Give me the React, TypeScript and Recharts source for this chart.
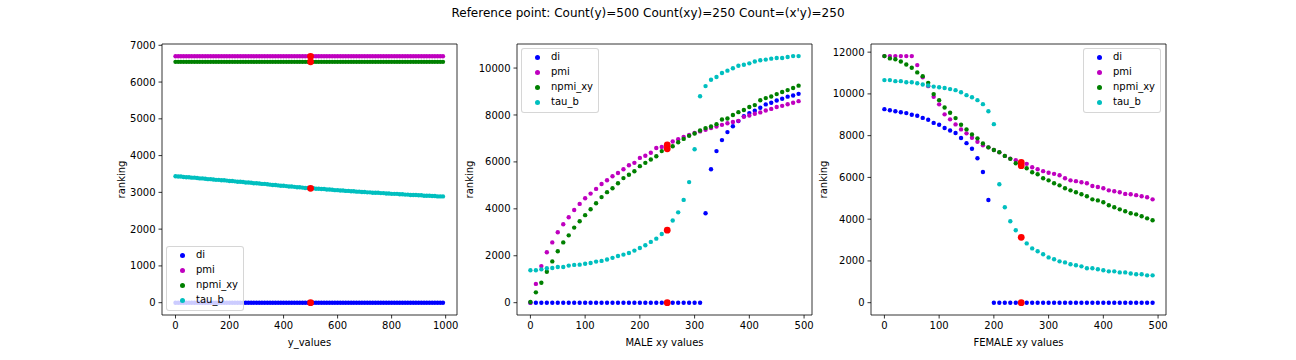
import React from "react"
import {
  ScatterChart,
  Scatter,
  XAxis,
  YAxis,
  Legend,
  ReferenceArea,
  Label
} from "recharts"

// ── Data ──────────────────────────────────────────────────────────────────────

const SERIES_NAMES = ["di", "pmi", "npmi_xy", "tau_b"]

// left panel: x = y_values
const yValues = [
  0, 10, 20, 30, 40, 50, 60, 70, 80, 90, 100, 110, 120, 130, 140, 150, 160, 170, 180, 190,
  200, 210, 220, 230, 240, 250, 260, 270, 280, 290, 300, 310, 320, 330, 340, 350, 360, 370, 380, 390,
  400, 410, 420, 430, 440, 450, 460, 470, 480, 490, 500, 510, 520, 530, 540, 550, 560, 570, 580, 590,
  600, 610, 620, 630, 640, 650, 660, 670, 680, 690, 700, 710, 720, 730, 740, 750, 760, 770, 780, 790,
  800, 810, 820, 830, 840, 850, 860, 870, 880, 890, 900, 910, 920, 930, 940, 950, 960, 970, 980, 990
]
const diY = [
  0, 0, 0, 0, 0, 0, 0, 0, 0, 0, 0, 0, 0, 0, 0, 0, 0, 0, 0, 0,
  0, 0, 0, 0, 0, 0, 0, 0, 0, 0, 0, 0, 0, 0, 0, 0, 0, 0, 0, 0,
  0, 0, 0, 0, 0, 0, 0, 0, 0, 0, 0, 0, 0, 0, 0, 0, 0, 0, 0, 0,
  0, 0, 0, 0, 0, 0, 0, 0, 0, 0, 0, 0, 0, 0, 0, 0, 0, 0, 0, 0,
  0, 0, 0, 0, 0, 0, 0, 0, 0, 0, 0, 0, 0, 0, 0, 0, 0, 0, 0, 0
]
const pmiY = [
  6700, 6700, 6700, 6700, 6700, 6700, 6700, 6700, 6700, 6700, 6700, 6700, 6700, 6700, 6700, 6700, 6700, 6700, 6700, 6700,
  6700, 6700, 6700, 6700, 6700, 6700, 6700, 6700, 6700, 6700, 6700, 6700, 6700, 6700, 6700, 6700, 6700, 6700, 6700, 6700,
  6700, 6700, 6700, 6700, 6700, 6700, 6700, 6700, 6700, 6700, 6700, 6700, 6700, 6700, 6700, 6700, 6700, 6700, 6700, 6700,
  6700, 6700, 6700, 6700, 6700, 6700, 6700, 6700, 6700, 6700, 6700, 6700, 6700, 6700, 6700, 6700, 6700, 6700, 6700, 6700,
  6700, 6700, 6700, 6700, 6700, 6700, 6700, 6700, 6700, 6700, 6700, 6700, 6700, 6700, 6700, 6700, 6700, 6700, 6700, 6700
]
const npmiY = [
  6550, 6550, 6550, 6550, 6550, 6550, 6550, 6550, 6550, 6550, 6550, 6550, 6550, 6550, 6550, 6550, 6550, 6550, 6550, 6550,
  6550, 6550, 6550, 6550, 6550, 6550, 6550, 6550, 6550, 6550, 6550, 6550, 6550, 6550, 6550, 6550, 6550, 6550, 6550, 6550,
  6550, 6550, 6550, 6550, 6550, 6550, 6550, 6550, 6550, 6550, 6550, 6550, 6550, 6550, 6550, 6550, 6550, 6550, 6550, 6550,
  6550, 6550, 6550, 6550, 6550, 6550, 6550, 6550, 6550, 6550, 6550, 6550, 6550, 6550, 6550, 6550, 6550, 6550, 6550, 6550,
  6550, 6550, 6550, 6550, 6550, 6550, 6550, 6550, 6550, 6550, 6550, 6550, 6550, 6550, 6550, 6550, 6550, 6550, 6550, 6550
]
const tauY = [
  3440, 3430, 3430, 3420, 3410, 3410, 3400, 3400, 3390, 3380, 3380, 3370, 3360, 3360, 3350, 3340, 3340, 3330, 3330, 3320,
  3310, 3310, 3300, 3290, 3290, 3280, 3270, 3270, 3260, 3250, 3250, 3240, 3230, 3230, 3220, 3210, 3200, 3200, 3190, 3180,
  3180, 3170, 3160, 3160, 3150, 3140, 3140, 3130, 3120, 3120, 3110, 3110, 3100, 3100, 3090, 3090, 3080, 3080, 3070, 3060,
  3060, 3050, 3050, 3040, 3040, 3030, 3030, 3020, 3020, 3010, 3010, 3000, 3000, 2990, 2990, 2990, 2980, 2980, 2970, 2970,
  2960, 2960, 2960, 2950, 2950, 2940, 2940, 2930, 2930, 2930, 2920, 2920, 2910, 2910, 2910, 2900, 2900, 2890, 2890, 2890
]
const refY = [0, 6700, 6550, 3110]

// middle + right panels: x = xy values
const xyValues = [
  0, 10, 20, 30, 40, 50, 60, 70, 80, 90, 100, 110, 120, 130, 140, 150, 160, 170, 180, 190,
  200, 210, 220, 230, 240, 250, 260, 270, 280, 290, 300, 310, 320, 330, 340, 350, 360, 370, 380, 390,
  400, 410, 420, 430, 440, 450, 460, 470, 480, 490
]

const diMale = [
  0, 0, 0, 0, 0, 0, 0, 0, 0, 0, 0, 0, 0, 0, 0, 0, 0, 0, 0, 0,
  0, 0, 0, 0, 0, 0, 0, 0, 0, 0, 0, 0, 3810, 5690, 6460, 6930, 7270, 7520, 7740, 7950,
  8080, 8180, 8310, 8450, 8520, 8620, 8690, 8780, 8830, 8900
]
const pmiMale = [
  0, 800, 1560, 2150, 2570, 3000, 3340, 3640, 3950, 4210, 4450, 4650, 4850, 5060, 5220, 5390, 5530, 5690, 5860, 5960,
  6170, 6260, 6390, 6590, 6640, 6720, 6870, 6970, 7060, 7150, 7230, 7300, 7370, 7440, 7510, 7580, 7650, 7700, 7750, 7920,
  7980, 8050, 8110, 8190, 8260, 8340, 8390, 8460, 8520, 8590
]
const npmiMale = [
  30, 440, 850, 1320, 1760, 2190, 2570, 2870, 3200, 3470, 3730, 3980, 4240, 4500, 4710, 4880, 5090, 5310, 5450, 5600,
  5820, 5960, 6100, 6240, 6460, 6560, 6670, 6840, 6980, 7110, 7210, 7340, 7440, 7510, 7610, 7810, 7850, 8000, 8120, 8210,
  8340, 8420, 8630, 8720, 8790, 8890, 8980, 9060, 9150, 9250
]
const tauMale = [
  1380, 1380, 1420, 1470, 1480, 1520, 1520, 1580, 1610, 1620, 1660, 1690, 1750, 1780, 1840, 1910, 1990, 2050, 2120, 2220,
  2330, 2450, 2590, 2730, 2930, 3090, 3500, 3850, 4380, 5140, 6540, 8800, 9230, 9500, 9620, 9790, 9890, 9990, 10100, 10140,
  10200, 10280, 10330, 10360, 10400, 10430, 10430, 10470, 10510, 10510
]
const refMale = [0, 6720, 6560, 3090]

const diFemale = [
  9270, 9220, 9170, 9120, 9080, 9000, 8950, 8850, 8760, 8610, 8520, 8370, 8250, 8130, 7890, 7640, 7370, 6920, 6260, 4920,
  0, 0, 0, 0, 0, 0, 0, 0, 0, 0, 0, 0, 0, 0, 0, 0, 0, 0, 0, 0,
  0, 0, 0, 0, 0, 0, 0, 0, 0, 0
]
const pmiFemale = [
  11810, 11810, 11810, 11810, 11810, 11810, 11380, 10800, 10370, 9860, 9500, 9020, 8780, 8540, 8300, 8110, 7900, 7710, 7540, 7440,
  7310, 7200, 7030, 6900, 6820, 6720, 6650, 6490, 6390, 6300, 6220, 6170, 6100, 5960, 5860, 5820, 5770, 5720, 5590, 5540,
  5480, 5380, 5340, 5290, 5210, 5190, 5150, 5100, 5050, 4950
]
const npmiFemale = [
  11810, 11700, 11660, 11550, 11410, 11250, 11030, 10850, 10530, 9990, 9700, 9350, 9100, 8840, 8520, 8300, 8060, 7870, 7630, 7440,
  7310, 7210, 7030, 6890, 6680, 6560, 6440, 6250, 6150, 5960, 5860, 5720, 5620, 5480, 5380, 5290, 5190, 5100, 4950, 4900,
  4810, 4670, 4570, 4470, 4380, 4280, 4230, 4140, 4040, 3950
]
const tauFemale = [
  10660, 10660, 10610, 10610, 10560, 10560, 10510, 10450, 10400, 10350, 10320, 10280, 10230, 10180, 10080, 9940, 9840, 9700, 9510, 9170,
  8550, 5670, 4570, 3900, 3470, 3130, 2840, 2600, 2460, 2320, 2170, 2080, 1980, 1930, 1840, 1790, 1740, 1650, 1650, 1600,
  1550, 1500, 1500, 1450, 1450, 1400, 1360, 1360, 1310, 1310
]
const refFemale = [0, 6720, 6560, 3130]

const ticksY_values = [0, 200, 400, 600, 800, 1000]
const ticksXY = [0, 100, 200, 300, 400, 500]
const ticksRankLeft = [0, 1000, 2000, 3000, 4000, 5000, 6000, 7000]
const ticksRankMale = [0, 2000, 4000, 6000, 8000, 10000]
const ticksRankFemale = [0, 2000, 4000, 6000, 8000, 10000, 12000]

// ── Style ─────────────────────────────────────────────────────────────────────

const FONT = "'DejaVu Sans', sans-serif"
const COLORS = ["#0000ff", "#bf00bf", "#008000", "#00bfbf"]
const REF_COLOR = "#ff0000"

const PLOT_TOP = 44
const PLOT_H = 271
const PLOT_W = 295
const AXIS_W = 60
const X_AXIS_H = 360 - PLOT_TOP - PLOT_H

const tickStyle = { fill: "#000", fontSize: 10, fontFamily: FONT }

const dot = (color: string, r: number) => (p: any) =>
  <circle cx={p.cx} cy={p.cy} r={r} fill={color} />

// matplotlib-like legend box, series order as plotted
const LegendBox = () => (
  <div
    style={{
      position: "relative",
      width: 78,
      height: 65,
      background: "rgba(255,255,255,0.8)",
      border: "1px solid rgba(204,204,204,0.8)",
      borderRadius: 3,
      fontFamily: FONT,
      fontSize: 10,
      color: "#000",
      boxSizing: "border-box"
    }}
  >
    {SERIES_NAMES.map((name, i) => (
      <div key={name} style={{ position: "absolute", left: 0, top: 9 + i * 15 - 7, height: 12, width: 76 }}>
        <span
          style={{
            position: "absolute",
            left: 12.5,
            top: 3.5,
            width: 5,
            height: 5,
            borderRadius: "50%",
            background: COLORS[i]
          }}
        />
        <span style={{ position: "absolute", left: 29, top: 0, lineHeight: "12px" }}>{name}</span>
      </div>
    ))}
  </div>
)

type PanelProps = {
  plotLeft: number
  xs: number[]
  ys: number[][]
  refX: number
  refYs: number[]
  xDomain: [number, number]
  yDomain: [number, number]
  xTicks: number[]
  yTicks: number[]
  xLabel: string
  yLabelGap: number
  legendPos: { left: number; top: number }
}

const Panel = ({ plotLeft, xs, ys, refX, refYs, xDomain, yDomain, xTicks, yTicks, xLabel, yLabelGap, legendPos }: PanelProps) => {
  const refData = refYs.map(y => ({ x: refX, y }))
  return (
    <div style={{ position: "absolute", left: plotLeft - AXIS_W, top: 0 }}>
      <ScatterChart
        width={AXIS_W + PLOT_W + 4}
        height={360}
        margin={{ top: PLOT_TOP, right: 4, bottom: 0, left: 0 }}
      >
        <XAxis
          type="number"
          dataKey="x"
          domain={xDomain}
          ticks={xTicks}
          allowDataOverflow
          axisLine={false}
          tickLine={{ stroke: "#000", strokeWidth: 0.8 }}
          tickSize={3.5}
          tickMargin={3}
          tick={tickStyle}
          height={X_AXIS_H}
        >
          <Label
            content={() => (
              <text
                x={AXIS_W + PLOT_W / 2}
                y={PLOT_TOP + PLOT_H + 27}
                textAnchor="middle"
                dominantBaseline="central"
                fontFamily={FONT}
                fontSize={10}
                fill="#000"
              >
                {xLabel}
              </text>
            )}
          />
        </XAxis>
        <YAxis
          type="number"
          dataKey="y"
          domain={yDomain}
          ticks={yTicks}
          allowDataOverflow
          axisLine={false}
          tickLine={{ stroke: "#000", strokeWidth: 0.8 }}
          tickSize={3.5}
          tickMargin={3}
          tick={tickStyle}
          width={AXIS_W}
        >
          <Label
            content={() => {
              const cx = AXIS_W - yLabelGap
              const cy = PLOT_TOP + PLOT_H / 2
              return (
                <text
                  x={cx}
                  y={cy}
                  transform={`rotate(-90 ${cx} ${cy})`}
                  textAnchor="middle"
                  dominantBaseline="central"
                  fontFamily={FONT}
                  fontSize={10}
                  fill="#000"
                >
                  ranking
                </text>
              )
            }}
          />
        </YAxis>
        <ReferenceArea
          x1={xDomain[0]}
          x2={xDomain[1]}
          y1={yDomain[0]}
          y2={yDomain[1]}
          fill="none"
          stroke="#000"
          strokeWidth={0.8}
          ifOverflow="visible"
        />
        {ys.map((series, i) => (
          <Scatter
            key={SERIES_NAMES[i]}
            name={SERIES_NAMES[i]}
            data={xs.map((x, j) => ({ x, y: series[j] }))}
            fill={COLORS[i]}
            shape={dot(COLORS[i], 2.2)}
            isAnimationActive={false}
          />
        ))}
        <Scatter
          name="reference"
          data={refData}
          fill={REF_COLOR}
          shape={dot(REF_COLOR, 3.4)}
          legendType="none"
          isAnimationActive={false}
        />
        <Legend
          layout="vertical"
          align="center"
          verticalAlign="middle"
          content={LegendBox}
          wrapperStyle={{ position: "absolute", left: legendPos.left - (plotLeft - AXIS_W), top: legendPos.top, width: 78, height: 65 }}
        />
      </ScatterChart>
    </div>
  )
}

export default function App() {
  return (
    <div
      style={{
        position: "absolute",
        left: 0,
        top: 0,
        width: 1296,
        height: 360,
        background: "#fff",
        overflow: "hidden"
      }}
    >
      <div
        style={{
          position: "absolute",
          left: 0,
          top: 6,
          width: 1296,
          textAlign: "center",
          fontFamily: FONT,
          fontSize: 12,
          lineHeight: "14px",
          color: "#000"
        }}
      >
        Reference point: Count(y)=500 Count(xy)=250 Count=(x'y)=250
      </div>
      <Panel
        plotLeft={162}
        xs={yValues}
        ys={[diY, pmiY, npmiY, tauY]}
        refX={500}
        refYs={refY}
        xDomain={[-50, 1042]}
        yDomain={[-335, 7035]}
        xTicks={ticksY_values}
        yTicks={ticksRankLeft}
        xLabel="y_values"
        yLabelGap={41}
        legendPos={{ left: 166, top: 246 }}
      />
      <Panel
        plotLeft={517}
        xs={xyValues}
        ys={[diMale, pmiMale, npmiMale, tauMale]}
        refX={250}
        refYs={refMale}
        xDomain={[-24.5, 514.5]}
        yDomain={[-525, 11025]}
        xTicks={ticksXY}
        yTicks={ticksRankMale}
        xLabel="MALE xy values"
        yLabelGap={48}
        legendPos={{ left: 521, top: 48 }}
      />
      <Panel
        plotLeft={871}
        xs={xyValues}
        ys={[diFemale, pmiFemale, npmiFemale, tauFemale]}
        refX={250}
        refYs={refFemale}
        xDomain={[-24.5, 514.5]}
        yDomain={[-590, 12390]}
        xTicks={ticksXY}
        yTicks={ticksRankFemale}
        xLabel="FEMALE xy values"
        yLabelGap={48}
        legendPos={{ left: 1083, top: 48 }}
      />
    </div>
  )
}
